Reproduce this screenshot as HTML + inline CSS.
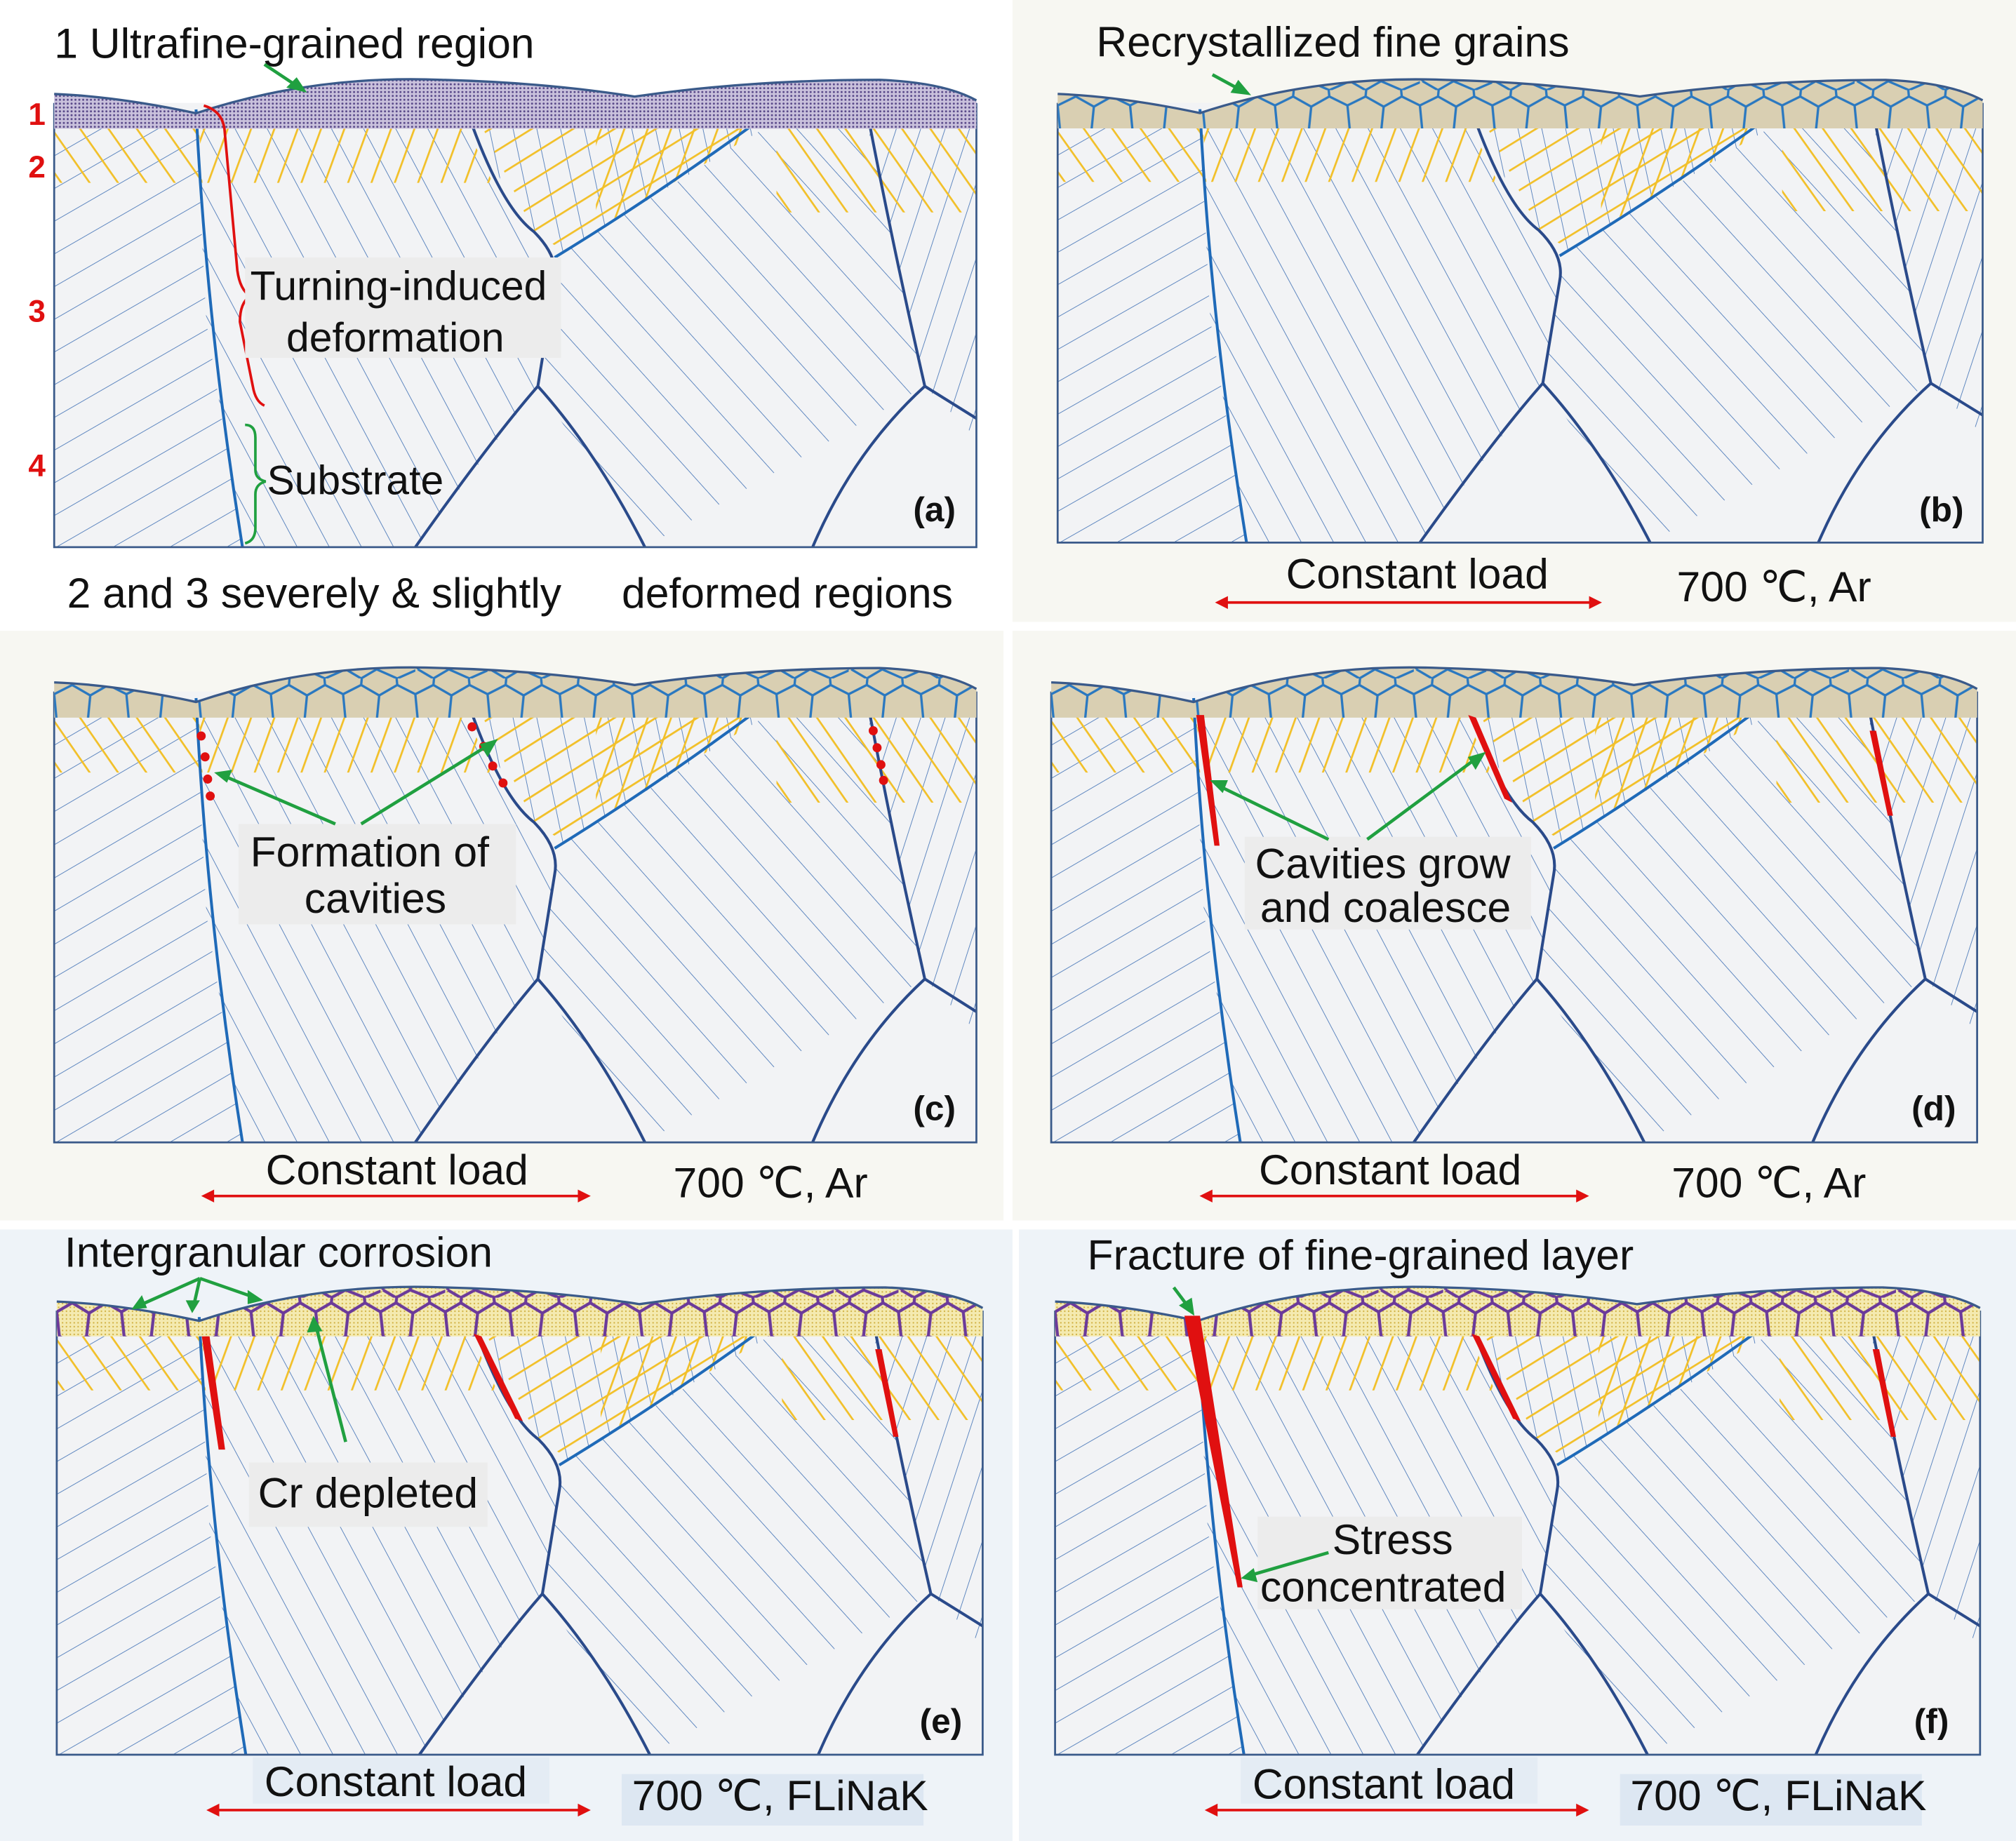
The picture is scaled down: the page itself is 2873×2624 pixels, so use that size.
<!DOCTYPE html>
<html><head><meta charset="utf-8"><style>html,body{margin:0;padding:0;background:#fff}svg{display:block}</style></head>
<body>
<svg width="2873" height="2624" viewBox="0 0 1563 1430" preserveAspectRatio="none" xmlns="http://www.w3.org/2000/svg" font-family="Liberation Sans, sans-serif">
<defs>
<pattern id="hA" width="22" height="22" patternUnits="userSpaceOnUse" patternTransform="rotate(-30)"><line x1="0" y1="0" x2="22" y2="0" stroke="#4a78b8" stroke-width="1"/></pattern>
<pattern id="hB" width="22" height="22" patternUnits="userSpaceOnUse" patternTransform="rotate(62)"><line x1="0" y1="0" x2="22" y2="0" stroke="#4a78b8" stroke-width="1"/></pattern>
<pattern id="hC" width="18" height="18" patternUnits="userSpaceOnUse" patternTransform="rotate(78)"><line x1="0" y1="0" x2="18" y2="0" stroke="#4a78b8" stroke-width="1"/></pattern>
<pattern id="hD" width="24" height="24" patternUnits="userSpaceOnUse" patternTransform="rotate(48)"><line x1="0" y1="0" x2="24" y2="0" stroke="#4a78b8" stroke-width="1"/></pattern>
<pattern id="hE" width="18" height="18" patternUnits="userSpaceOnUse" patternTransform="rotate(-72)"><line x1="0" y1="0" x2="18" y2="0" stroke="#4a78b8" stroke-width="1"/></pattern>
<pattern id="yBack" width="18" height="18" patternUnits="userSpaceOnUse" patternTransform="rotate(55)"><line x1="0" y1="0" x2="18" y2="0" stroke="#f2c029" stroke-width="3"/></pattern>
<pattern id="ySteep" width="17" height="17" patternUnits="userSpaceOnUse" patternTransform="rotate(-70)"><line x1="0" y1="0" x2="17" y2="0" stroke="#f2c029" stroke-width="3"/></pattern>
<pattern id="yShallow" width="17" height="17" patternUnits="userSpaceOnUse" patternTransform="rotate(-32)"><line x1="0" y1="0" x2="17" y2="0" stroke="#f2c029" stroke-width="3"/></pattern>
<pattern id="dots" width="3" height="3" patternUnits="userSpaceOnUse"><rect width="3" height="3" fill="#c9c1dc"/><circle cx="1.5" cy="1.5" r="0.8" fill="#5a4a8a"/></pattern>
<pattern id="ydots" width="3" height="3" patternUnits="userSpaceOnUse"><rect width="3" height="3" fill="#f4eab0"/><circle cx="1.5" cy="1.5" r="0.6" fill="#d0b040"/></pattern>
<pattern id="cellB" width="56" height="40" patternUnits="userSpaceOnUse"><path d="M0,12 L14,5 L28,13 L42,5 L56,12 M14,5 L15,-5 M42,5 L41,-5 M0,12 L2,33 M28,13 L26,33 M56,12 L58,33 M2,33 L14,40 L26,33 L42,40 L58,33 M14,40 L14,46 M42,40 L42,46" fill="none" stroke="#2a78c0" stroke-width="1.8"/></pattern>
<pattern id="cellP" width="50" height="36" patternUnits="userSpaceOnUse"><path d="M0,11 L12,4 L25,12 L38,4 L50,11 M12,4 L13,-4 M38,4 L37,-4 M0,11 L2,30 M25,12 L23,30 M50,11 L52,30 M2,30 L12,36 L23,30 L38,36 L52,30 M12,36 L12,42 M38,36 L38,42" fill="none" stroke="#6b3a9a" stroke-width="2.3"/></pattern>
<clipPath id="box"><rect x="0" y="0" width="715" height="355"/></clipPath>
<path id="surf" d="M0,30 L0,3 Q50,5 110,18 Q200,-12 300,-8 Q380,-6 450,5 Q540,-8 640,-8 Q690,-6 715,8 L715,30 Z"/>
<path id="surfTop" d="M0,3 Q50,5 110,18 Q200,-12 300,-8 Q380,-6 450,5 Q540,-8 640,-8 Q690,-6 715,8" fill="none" stroke="#3a5a8a" stroke-width="1.8"/>
<g id="base">
<rect x="0" y="10" width="715" height="345" fill="#f2f3f5"/>
<g clip-path="url(#box)">
<polygon points="0,25 110,25 118,180 146,355 0,355" fill="url(#hA)"/>
<polygon points="110,25 318,25 372,110 388,150 375,230 280,355 146,355 118,180" fill="url(#hB)"/>
<polygon points="318,25 558,25 388,130 372,110" fill="url(#hC)"/>
<polygon points="388,130 558,25 630,25 675,230 458,355 375,230 388,150" fill="url(#hD)"/>
<polygon points="630,25 715,25 715,270 675,230" fill="url(#hE)"/>
<polygon points="0,25 112,25 115,72 0,72" fill="url(#yBack)"/>
<polygon points="112,25 318,25 340,72 115,72" fill="url(#ySteep)"/>
<polygon points="330,25 558,25 430,100 395,125 372,110" fill="url(#yShallow)"/>
<polygon points="420,25 558,25 420,108" fill="url(#ySteep)"/>
<polygon points="560,25 715,25 715,95 560,95" fill="url(#yBack)"/>
</g>
<g fill="none" stroke="#2a4a8a" stroke-width="2.2">
<path d="M110,15 Q118,180 146,355" stroke="#1f6ab8"/>
<path d="M318,10 Q345,90 372,110 Q392,130 388,150 Q380,200 375,230"/>
<path d="M375,230 Q340,270 280,355"/>
<path d="M375,230 Q420,280 458,355"/>
<path d="M388,130 Q470,80 558,15" stroke="#1f6ab8"/>
<path d="M630,15 Q650,120 675,230"/>
<path d="M675,230 Q620,280 588,355"/>
<path d="M675,230 L715,255"/>
</g>
<path d="M0,10 L0,355 L715,355 L715,10" fill="none" stroke="#3a5a8a" stroke-width="1.5"/>
</g>
</defs>

<rect x="785" y="0" width="778" height="483" fill="#f7f7f2"/>
<rect x="0" y="490" width="778" height="458" fill="#f7f7f2"/>
<rect x="785" y="490" width="778" height="458" fill="#f7f7f2"/>
<rect x="0" y="955" width="785" height="475" fill="#eef3f8"/>
<rect x="790" y="955" width="773" height="475" fill="#eef3f8"/>

<g transform="translate(42,70)">
<use href="#base"/>
<use href="#surf" fill="url(#dots)"/>
<use href="#surfTop"/>
</g>
<g transform="translate(820,70) scale(1.003,0.99)">
<use href="#base"/>
<use href="#surf" fill="#d9cfb2"/>
<use href="#surf" fill="url(#cellB)"/>
<use href="#surfTop"/>
</g>
<g transform="translate(42,527) scale(1,1.015)">
<use href="#base"/>
<use href="#surf" fill="#d9cfb2"/>
<use href="#surf" fill="url(#cellB)"/>
<use href="#surfTop"/>
<g fill="#e01010"><circle cx="114" cy="44" r="3.5"/><circle cx="117" cy="60" r="3.5"/><circle cx="119" cy="77" r="3.5"/><circle cx="121" cy="90" r="3.5"/>
<circle cx="324" cy="37" r="3.5"/><circle cx="333" cy="52" r="3.5"/><circle cx="340" cy="67" r="3.5"/><circle cx="348" cy="80" r="3.5"/>
<circle cx="635" cy="40" r="3.5"/><circle cx="638" cy="53" r="3.5"/><circle cx="641" cy="66" r="3.5"/><circle cx="643" cy="78" r="3.5"/></g>
</g>
<g transform="translate(815,527) scale(1.004,1.015)">
<use href="#base"/>
<use href="#surf" fill="#d9cfb2"/>
<use href="#surf" fill="url(#cellB)"/>
<use href="#surfTop"/>
<g fill="#e01010"><path d="M112,28 L118,28 L130,128 L126,128 Z"/><path d="M322,28 L328,30 L356,95 L350,92 Z"/><path d="M632,40 L637,40 L650,105 L646,105 Z"/></g>
</g>
<g transform="translate(44,1008) scale(1.004,1.0)">
<use href="#base"/>
<use href="#surf" fill="url(#ydots)"/>
<use href="#surf" fill="url(#cellP)"/>
<use href="#surfTop"/>
<g fill="#e01010"><path d="M112,30 L118,30 L130,118 L125,118 Z"/><path d="M322,28 L328,30 L360,96 L354,94 Z"/><path d="M632,40 L637,40 L650,108 L646,108 Z"/></g>
</g>
<g transform="translate(818,1008) scale(1.003,1.0)">
<use href="#base"/>
<use href="#surf" fill="url(#ydots)"/>
<use href="#surf" fill="url(#cellP)"/>
<use href="#surfTop"/>
<g fill="#e01010"><path d="M100,14 L112,14 L145,225 L141,225 Z"/><path d="M322,28 L328,30 L360,96 L354,94 Z"/><path d="M632,40 L637,40 L650,108 L646,108 Z"/></g>
</g>

<g font-size="33" fill="#111">
<text x="42" y="45">1 Ultrafine-grained region</text>
<text x="52" y="472">2 and 3 severely &amp; slightly</text>
<text x="482" y="472">deformed regions</text>
</g>
<g font-size="24" fill="#e01010" font-weight="bold"><text x="22" y="97">1</text><text x="22" y="138">2</text><text x="22" y="250">3</text><text x="22" y="370">4</text></g>
<path d="M158,82 Q172,86 174,100 L184,210 Q186,225 194,230 Q186,235 186,250 L196,300 Q198,312 205,315" fill="none" stroke="#e01010" stroke-width="2"/>
<path d="M190,330 Q198,330 198,340 L198,365 Q198,372 206,374 Q198,376 198,384 L198,410 Q198,420 190,422" fill="none" stroke="#20a040" stroke-width="2"/>
<rect x="190" y="200" width="245" height="78" fill="#ececec"/>
<text x="194" y="233" font-size="32" fill="#111">Turning-induced</text>
<text x="222" y="273" font-size="32" fill="#111">deformation</text>
<text x="207" y="384" font-size="32" fill="#111">Substrate</text>
<line x1="205" y1="50" x2="232" y2="68" stroke="#20a040" stroke-width="2.5"/><path d="M238,72 L222,68 L230,60 Z" fill="#20a040"/>
<text x="708" y="405" font-size="27" font-weight="bold" fill="#111">(a)</text>

<text x="850" y="44" font-size="33" fill="#111">Recrystallized fine grains</text>
<line x1="940" y1="58" x2="962" y2="70" stroke="#20a040" stroke-width="2.5"/><path d="M970,74 L954,72 L960,62 Z" fill="#20a040"/>
<text x="1488" y="405" font-size="27" font-weight="bold" fill="#111">(b)</text>
<text x="997" y="457" font-size="33" fill="#111">Constant load</text>
<text x="1300" y="467" font-size="33" fill="#111">700 ℃, Ar</text>
<line x1="948" y1="468" x2="1236" y2="468" stroke="#e01010" stroke-width="2"/>
<path d="M942,468 L952,463 L952,473 Z M1242,468 L1232,463 L1232,473 Z" fill="#e01010"/>

<rect x="185" y="640" width="215" height="78" fill="#ececec"/>
<text x="194" y="673" font-size="33" fill="#111">Formation of</text>
<text x="236" y="709" font-size="33" fill="#111">cavities</text>
<g stroke="#20a040" stroke-width="2.5"><line x1="260" y1="640" x2="172" y2="602"/><line x1="280" y1="640" x2="380" y2="578"/></g>
<path d="M166,600 L180,598 L176,608 Z M386,574 L372,578 L378,588 Z" fill="#20a040"/>
<text x="708" y="870" font-size="27" font-weight="bold" fill="#111">(c)</text>
<text x="206" y="920" font-size="33" fill="#111">Constant load</text>
<text x="522" y="930" font-size="33" fill="#111">700 ℃, Ar</text>
<line x1="162" y1="929" x2="452" y2="929" stroke="#e01010" stroke-width="2"/>
<path d="M156,929 L166,924 L166,934 Z M458,929 L448,924 L448,934 Z" fill="#e01010"/>

<rect x="965" y="650" width="222" height="72" fill="#ececec"/>
<text x="973" y="682" font-size="33" fill="#111">Cavities grow</text>
<text x="977" y="716" font-size="33" fill="#111">and coalesce</text>
<g stroke="#20a040" stroke-width="2.5"><line x1="1030" y1="652" x2="944" y2="610"/><line x1="1060" y1="652" x2="1146" y2="588"/></g>
<path d="M938,606 L952,606 L948,616 Z M1152,584 L1138,588 L1144,598 Z" fill="#20a040"/>
<text x="1482" y="870" font-size="27" font-weight="bold" fill="#111">(d)</text>
<text x="976" y="920" font-size="33" fill="#111">Constant load</text>
<text x="1296" y="930" font-size="33" fill="#111">700 ℃, Ar</text>
<line x1="936" y1="929" x2="1226" y2="929" stroke="#e01010" stroke-width="2"/>
<path d="M930,929 L940,924 L940,934 Z M1232,929 L1222,924 L1222,934 Z" fill="#e01010"/>

<text x="50" y="984" font-size="33" fill="#111">Intergranular corrosion</text>
<g stroke="#20a040" stroke-width="2.5"><line x1="155" y1="993" x2="108" y2="1014"/><line x1="155" y1="993" x2="150" y2="1015"/><line x1="155" y1="993" x2="198" y2="1008"/><line x1="268" y1="1120" x2="245" y2="1030"/></g>
<path d="M102,1017 L110,1006 L114,1016 Z M149,1020 L144,1010 L155,1010 Z M204,1010 L192,1002 L192,1013 Z M243,1022 L238,1035 L250,1034 Z" fill="#20a040"/>
<rect x="193" y="1136" width="185" height="50" fill="#ececec"/>
<text x="200" y="1171" font-size="33" fill="#111">Cr depleted</text>
<text x="713" y="1346" font-size="27" font-weight="bold" fill="#111">(e)</text>
<rect x="196" y="1365" width="230" height="36" fill="#e4ecf4"/>
<text x="205" y="1395" font-size="33" fill="#111">Constant load</text>
<rect x="482" y="1378" width="234" height="40" fill="#dde7f2"/>
<text x="490" y="1406" font-size="33" fill="#111">700 ℃, FLiNaK</text>
<line x1="166" y1="1406" x2="452" y2="1406" stroke="#e01010" stroke-width="2"/>
<path d="M160,1406 L170,1401 L170,1411 Z M458,1406 L448,1401 L448,1411 Z" fill="#e01010"/>

<text x="843" y="986" font-size="33" fill="#111">Fracture of fine-grained layer</text>
<line x1="910" y1="1000" x2="922" y2="1016" stroke="#20a040" stroke-width="2.5"/><path d="M926,1022 L914,1014 L924,1008 Z" fill="#20a040"/>
<rect x="975" y="1178" width="205" height="72" fill="#ececec"/>
<text x="1033" y="1207" font-size="33" fill="#111">Stress</text>
<text x="977" y="1244" font-size="33" fill="#111">concentrated</text>
<line x1="1030" y1="1206" x2="968" y2="1224" stroke="#20a040" stroke-width="2.5"/><path d="M962,1226 L972,1218 L975,1229 Z" fill="#20a040"/>
<text x="1484" y="1346" font-size="27" font-weight="bold" fill="#111">(f)</text>
<rect x="962" y="1365" width="230" height="36" fill="#e4ecf4"/>
<text x="971" y="1397" font-size="33" fill="#111">Constant load</text>
<rect x="1256" y="1378" width="234" height="40" fill="#dde7f2"/>
<text x="1264" y="1406" font-size="33" fill="#111">700 ℃, FLiNaK</text>
<line x1="940" y1="1406" x2="1226" y2="1406" stroke="#e01010" stroke-width="2"/>
<path d="M934,1406 L944,1401 L944,1411 Z M1232,1406 L1222,1401 L1222,1411 Z" fill="#e01010"/>
</svg>
</body></html>
